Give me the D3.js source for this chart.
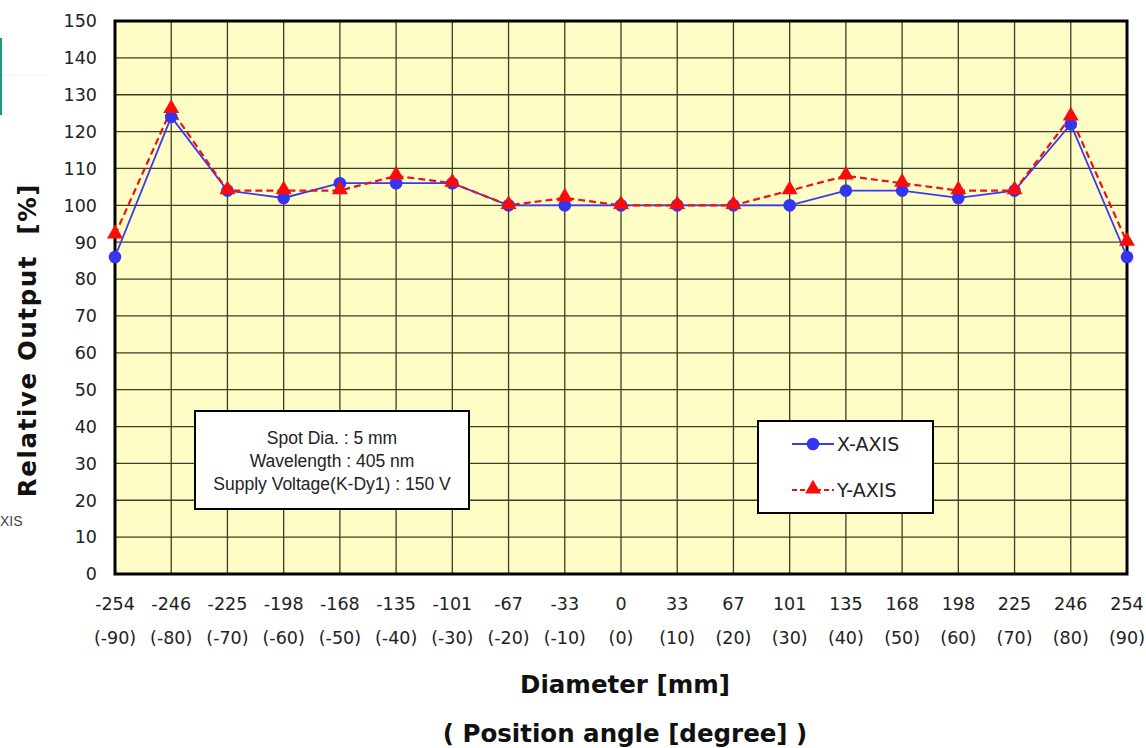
<!DOCTYPE html>
<html lang="en">
<head>
  <meta charset="UTF-8" />
  <title>Relative Output vs Diameter</title>
  <script src="https://d3js.org/d3.v7.min.js"></script>
  <style>
    body { margin: 0; background: #fff; }
    svg { display: block; }
    .tick-label { font-family: "DejaVu Sans", sans-serif; font-size: 17.5px; fill: #222; }
    .axis-title { font-family: "DejaVu Sans", sans-serif; font-weight: bold; font-size: 24.5px; fill: #111; }
    .note { font-family: "Liberation Sans", Arial, sans-serif; font-size: 17.5px; fill: #222; }
    .legend-text { font-family: "DejaVu Sans", sans-serif; font-size: 19px; fill: #222; }
  </style>
</head>
<body>
  <svg id="chart" width="1146" height="748"></svg>

  <script>
    // categories (diameter in mm, position angle in degrees)
    const diameters = ['-254', '-246', '-225', '-198', '-168', '-135', '-101', '-67', '-33', '0',
                       '33', '67', '101', '135', '168', '198', '225', '246', '254'];
    const angles = ['(-90)', '(-80)', '(-70)', '(-60)', '(-50)', '(-40)', '(-30)', '(-20)', '(-10)', '(0)',
                    '(10)', '(20)', '(30)', '(40)', '(50)', '(60)', '(70)', '(80)', '(90)'];

    // relative output [%]
    const xAxisValues = [86, 124, 104, 102, 106, 106, 106, 100, 100, 100,
                         100, 100, 100, 104, 104, 102, 104, 122, 86];
    const yAxisValues = [92, 126, 104, 104, 104, 108, 106, 100, 102, 100,
                         100, 100, 104, 108, 106, 104, 104, 124, 90];

    const yTicks = [0, 10, 20, 30, 40, 50, 60, 70, 80, 90, 100, 110, 120, 130, 140, 150];

    const noteLines = ['Spot Dia. : 5 mm', 'Wavelength : 405 nm', 'Supply Voltage(K-Dy1) : 150 V'];

    const svg = d3.select('#chart');
    const plot = { left: 115, right: 1127, top: 21, bottom: 574 };

    const x = d3.scalePoint()
      .domain(diameters)
      .range([plot.left, plot.right]);

    const y = d3.scaleLinear()
      .domain([0, 150])
      .range([plot.bottom, plot.top]);

    // leftover bits of the cropped page
    svg.append('line')
      .attr('x1', 1).attr('x2', 1).attr('y1', 38).attr('y2', 115)
      .attr('stroke', '#1a9a80').attr('stroke-width', 2);
    svg.append('line')
      .attr('x1', 3).attr('x2', 48).attr('y1', 75).attr('y2', 75)
      .attr('stroke', '#f0f0f0').attr('stroke-width', 1);
    svg.append('text')
      .attr('x', 0).attr('y', 526)
      .attr('font-family', 'Liberation Sans, Arial, sans-serif')
      .attr('font-size', 14).attr('fill', '#444')
      .text('XIS');

    // plot background
    svg.append('rect')
      .attr('x', plot.left).attr('y', plot.top)
      .attr('width', plot.right - plot.left).attr('height', plot.bottom - plot.top)
      .attr('fill', '#fffdc6');

    // grid
    const grid = svg.append('g').attr('stroke', '#3d3d28').attr('stroke-width', 1.3);
    grid.selectAll('line.h')
      .data(yTicks)
      .join('line')
      .attr('class', 'h')
      .attr('x1', plot.left).attr('x2', plot.right)
      .attr('y1', d => y(d)).attr('y2', d => y(d));
    grid.selectAll('line.v')
      .data(diameters)
      .join('line')
      .attr('class', 'v')
      .attr('y1', plot.top).attr('y2', plot.bottom)
      .attr('x1', d => x(d)).attr('x2', d => x(d));

    // frame
    svg.append('rect')
      .attr('x', plot.left).attr('y', plot.top)
      .attr('width', plot.right - plot.left).attr('height', plot.bottom - plot.top)
      .attr('fill', 'none').attr('stroke', '#000').attr('stroke-width', 3);

    // y tick labels
    svg.append('g')
      .selectAll('text')
      .data(yTicks)
      .join('text')
      .attr('class', 'tick-label')
      .attr('x', 97)
      .attr('y', d => y(d))
      .attr('dy', '0.36em')
      .attr('text-anchor', 'end')
      .text(d => d);

    // x tick labels, two rows
    const xLabels = svg.append('g');
    xLabels.selectAll('text.d')
      .data(diameters)
      .join('text')
      .attr('class', 'tick-label d')
      .attr('x', d => x(d))
      .attr('y', 610)
      .attr('text-anchor', 'middle')
      .text(d => d);
    xLabels.selectAll('text.a')
      .data(angles)
      .join('text')
      .attr('class', 'tick-label a')
      .attr('x', (d, i) => x(diameters[i]))
      .attr('y', 644)
      .attr('text-anchor', 'middle')
      .text(d => d);

    // axis titles
    svg.append('text')
      .attr('class', 'axis-title')
      .attr('transform', 'translate(36,340) rotate(-90)')
      .attr('text-anchor', 'middle')
      .attr('letter-spacing', 1.6)
      .attr('xml:space', 'preserve')
      .text('Relative Output  [%]');
    svg.append('text')
      .attr('class', 'axis-title')
      .attr('x', 625).attr('y', 693)
      .attr('text-anchor', 'middle')
      .text('Diameter [mm]');
    svg.append('text')
      .attr('class', 'axis-title')
      .attr('x', 625).attr('y', 742)
      .attr('text-anchor', 'middle')
      .text('( Position angle [degree] )');

    // series
    const lineX = d3.line().x((d, i) => x(diameters[i])).y(d => y(d));

    svg.append('path')
      .datum(xAxisValues)
      .attr('fill', 'none')
      .attr('stroke', '#3a3aee')
      .attr('stroke-width', 1.8)
      .attr('d', lineX);

    svg.append('path')
      .datum(yAxisValues)
      .attr('fill', 'none')
      .attr('stroke', '#e8141a')
      .attr('stroke-width', 2.2)
      .attr('stroke-dasharray', '7,4')
      .attr('d', lineX);

    const circle = d3.symbol().type(d3.symbolCircle).size(125);
    const tri = d3.symbol().type(d3.symbolTriangle).size(110);

    svg.append('g')
      .selectAll('path')
      .data(xAxisValues)
      .join('path')
      .attr('d', circle)
      .attr('fill', '#3535f0')
      .attr('transform', (d, i) => `translate(${x(diameters[i])},${y(d)})`);

    svg.append('g')
      .selectAll('path')
      .data(yAxisValues)
      .join('path')
      .attr('d', tri)
      .attr('fill', '#ff0a0a')
      .attr('transform', (d, i) => `translate(${x(diameters[i])},${y(d) - 1})`);

    // note box
    svg.append('rect')
      .attr('x', 195).attr('y', 411).attr('width', 274).attr('height', 98)
      .attr('fill', '#fff').attr('stroke', '#000').attr('stroke-width', 2);
    svg.append('g')
      .selectAll('text')
      .data(noteLines)
      .join('text')
      .attr('class', 'note')
      .attr('x', 332)
      .attr('y', (d, i) => 444 + i * 23)
      .attr('text-anchor', 'middle')
      .text(d => d);

    // legend
    const legend = svg.append('g');
    legend.append('rect')
      .attr('x', 758).attr('y', 421).attr('width', 175).attr('height', 92)
      .attr('fill', '#fff').attr('stroke', '#000').attr('stroke-width', 2);

    legend.append('line')
      .attr('x1', 792).attr('x2', 834).attr('y1', 444).attr('y2', 444)
      .attr('stroke', '#3a3aee').attr('stroke-width', 1.8);
    legend.append('path')
      .attr('d', circle)
      .attr('fill', '#3535f0')
      .attr('transform', 'translate(813,444)');
    legend.append('text')
      .attr('class', 'legend-text')
      .attr('x', 837).attr('y', 451)
      .text('X-AXIS');

    legend.append('line')
      .attr('x1', 792).attr('x2', 834).attr('y1', 490).attr('y2', 490)
      .attr('stroke', '#e8141a').attr('stroke-width', 2.2)
      .attr('stroke-dasharray', '5,3');
    legend.append('path')
      .attr('d', tri)
      .attr('fill', '#ff0a0a')
      .attr('transform', 'translate(813,489)');
    legend.append('text')
      .attr('class', 'legend-text')
      .attr('x', 837).attr('y', 497)
      .text('Y-AXIS');
  </script>
</body>
</html>
